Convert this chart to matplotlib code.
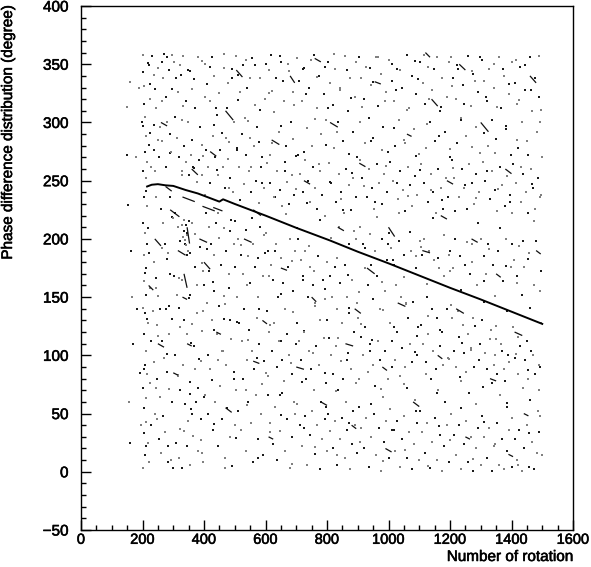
import matplotlib
matplotlib.use("Agg")
import matplotlib.pyplot as plt
import matplotlib.patheffects as pe
from matplotlib.ticker import MultipleLocator

# Main phase-difference track (rotation, degree)
trend_x = [215, 230, 250, 275, 300, 340, 380, 420, 450, 462, 500, 600, 700, 810, 900, 1000, 1100, 1200, 1300, 1400, 1500]
trend_y = [245, 246.5, 247, 246, 245.5, 242, 239, 235, 232, 234, 230, 220, 209.5, 198.6, 189, 179, 168.5, 158, 148, 137.5, 127]

# Scattered background points (rotation, degree)
noise_pts = [
 (148,272),(150,313),(152,229),(155,60),(158,25),(160,335),(163,190),(165,150),(170,110),(178,270),(182,140),(188,330),(192,85),(196,40),(198,300),
 (201,358),(203,343),(206,331),(204,316),(209,305),(202,297),(212,288),(207,275),(215,266),(203,258),(210,252),(205,236),(214,228),(202,214),(208,205),(216,196),(204,186),(211,175),(206,164),(213,152),(203,141),(209,136),(217,128),(205,118),(212,104),(207,92),(215,84),(203,72),(210,63),(206,55),(213,43),(204,33),(218,25),(208,14),(201,3),(222,349),(226,320),(224,291),(228,262),(221,188),(225,158),(229,112),(223,76),(227,40),(220,8),
 (232,357),(236,341),(240,329),(245,312),(238,298),(250,285),(255,270),(242,258),(262,352),(268,338),(275,322),(281,300),(288,290),(294,275),(259,226),(266,214),(272,196),(284,188),(291,170),(236,180),(244,166),(252,151),(258,140),(247,126),(263,112),(270,98),(279,86),(287,71),(296,60),(238,94),(248,80),(256,64),(266,48),(274,34),(283,22),(292,10),(299,3),(241,50),(253,28),(261,16),(276,140),(285,118),(295,131),(234,138),(290,236),(298,218),(278,262),(265,284),(286,345),(297,358),(271,359),(243,236),(237,276),
 (302,352),(309,338),(316,326),(324,341),(331,357),(340,318),(348,300),(355,344),(362,329),(371,312),(379,356),(386,296),(394,281),(305,305),(312,287),(320,270),(327,258),(336,280),(343,266),(351,255),(359,272),(367,261),(376,249),(384,268),(392,255),(307,222),(314,210),(321,198),(330,212),(338,196),(346,203),(354,188),(362,214),(370,176),(378,160),(387,193),(396,172),(303,168),(311,152),(319,141),(328,165),(336,130),(344,118),(352,149),(361,127),(369,108),(377,136),(385,97),(393,121),(306,100),(314,82),(322,70),(331,92),(339,58),(348,44),(356,77),(364,31),(373,60),(381,18),(389,45),(398,8),(309,25),(318,12),(327,3),(335,35),(344,22),(353,6),(362,50),(371,88),(380,72),(391,27),(399,64),
 (333,202),(335,207),(338,199),(340,212),(342,195),(345,205),(347,190),(350,215),(336,216),(344,186),
 (403,350),(411,333),(418,318),(426,356),(434,340),(442,306),(450,325),(458,291),(466,347),(474,312),(482,283),(491,338),(498,300),(405,276),(413,262),(421,248),(429,288),(437,270),(445,255),(453,276),(461,262),(469,244),(477,269),(486,252),(494,240),(408,222),(416,210),(424,196),(432,186),(440,214),(448,201),(456,178),(464,209),(472,190),(480,170),(488,216),(496,196),(401,160),(409,145),(417,172),(425,130),(433,155),(441,118),(449,142),(457,104),(465,131),(473,92),(481,158),(489,114),(497,80),(404,66),(412,50),(420,88),(428,36),(436,60),(444,22),(452,74),(460,45),(468,12),(476,55),(484,30),(492,5),(500,40),(414,100),(445,96),(486,130),
 (503,357),(510,341),(518,326),(526,349),(533,304),(541,330),(549,287),(557,355),(565,315),(573,296),(581,338),(589,270),(597,320),(506,278),(514,262),(522,290),(530,247),(538,272),(546,258),(554,240),(562,280),(570,250),(578,231),(586,262),(594,244),(502,215),(511,200),(519,186),(527,170),(535,208),(543,185),(551,162),(559,196),(567,176),(575,150),(583,210),(591,168),(599,188),(507,150),(515,128),(523,112),(531,140),(539,96),(547,122),(555,104),(563,88),(571,132),(579,110),(587,75),(595,95),(504,70),(512,52),(520,36),(528,80),(536,18),(544,60),(552,42),(560,8),(568,66),(576,28),(584,50),(592,14),(600,85),
 (603,350),(611,325),(619,358),(627,309),(635,338),(643,292),(651,352),(659,318),(667,280),(675,344),(683,300),(691,326),(699,271),(606,265),(614,248),(622,282),(630,236),(638,258),(646,242),(654,228),(662,266),(670,249),(678,230),(686,255),(694,238),(601,205),(609,190),(617,178),(625,165),(633,196),(641,150),(649,184),(657,162),(665,140),(673,176),(681,200),(689,155),(697,190),(605,138),(613,120),(621,104),(629,128),(637,90),(645,112),(653,96),(661,78),(669,118),(677,100),(685,84),(693,60),(607,66),(615,42),(623,24),(631,56),(639,10),(647,35),(655,68),(663,18),(671,45),(679,3),(687,30),(695,50),(700,110),
 (702,355),(710,336),(718,318),(726,347),(734,295),(742,330),(750,280),(758,358),(766,312),(774,340),(782,290),(790,324),(798,302),(705,272),(713,256),(721,240),(729,268),(737,250),(745,232),(753,262),(761,244),(769,226),(777,258),(785,238),(793,220),(706,200),(714,182),(722,168),(730,190),(738,150),(746,176),(754,160),(762,142),(770,185),(778,130),(786,165),(794,148),(701,128),(709,112),(717,96),(725,120),(733,80),(741,104),(749,88),(757,70),(765,108),(773,92),(781,60),(789,115),(797,76),(704,58),(712,40),(720,22),(728,48),(736,6),(744,32),(752,52),(760,15),(768,40),(776,2),(784,28),(792,45),(800,18),
 (803,352),(811,334),(819,315),(827,346),(835,300),(843,328),(851,284),(859,357),(867,310),(875,338),(883,292),(891,322),(899,270),(806,265),(814,248),(822,278),(830,232),(838,256),(846,240),(854,222),(862,260),(870,246),(878,225),(886,252),(894,236),(801,180),(809,168),(817,150),(825,176),(833,140),(841,162),(849,128),(857,178),(865,150),(873,136),(881,165),(889,120),(897,145),(805,115),(813,100),(821,84),(829,108),(837,70),(845,95),(853,80),(861,60),(869,102),(877,88),(885,52),(893,76),(802,50),(810,35),(818,20),(826,44),(834,6),(842,28),(850,46),(858,12),(866,36),(874,2),(882,24),(890,40),(898,16),(840,210),(870,196),(895,200),
 (903,356),(911,338),(919,320),(927,348),(935,304),(943,332),(951,287),(959,356),(967,314),(975,342),(983,296),(991,326),(999,275),(906,268),(914,252),(922,282),(930,236),(938,260),(946,244),(954,226),(962,264),(970,248),(978,230),(986,256),(994,240),(908,210),(916,196),(924,175),(932,160),(940,204),(948,148),(956,190),(964,168),(972,140),(980,200),(988,155),(996,182),(901,132),(909,116),(917,100),(925,124),(933,86),(941,110),(949,92),(957,74),(965,112),(973,96),(981,64),(989,104),(997,80),(904,56),(912,38),(920,20),(928,46),(936,4),(944,30),(952,50),(960,14),(968,38),(976,1),(984,26),(992,44),(1000,12),
 (1003,354),(1011,336),(1019,318),(1027,346),(1035,302),(1043,330),(1051,285),(1059,358),(1067,312),(1075,340),(1083,294),(1091,324),(1099,273),(1006,266),(1014,250),(1022,280),(1030,234),(1038,258),(1046,242),(1054,224),(1062,262),(1070,246),(1078,228),(1086,254),(1094,238),(1001,205),(1009,192),(1017,178),(1025,160),(1033,198),(1041,150),(1049,186),(1057,144),(1065,132),(1073,190),(1081,146),(1089,185),(1097,124),(1005,128),(1013,112),(1021,96),(1029,120),(1037,82),(1045,106),(1053,90),(1061,72),(1069,110),(1077,94),(1085,62),(1093,100),(1004,54),(1012,36),(1020,18),(1028,44),(1036,4),(1044,28),(1052,48),(1060,12),(1068,34),(1076,2),(1084,24),(1092,42),(1100,10),
 (1103,352),(1111,334),(1119,316),(1127,348),(1135,300),(1143,328),(1151,284),(1159,356),(1167,310),(1175,338),(1183,292),(1191,322),(1199,270),(1106,264),(1114,248),(1122,278),(1130,232),(1138,256),(1146,240),(1154,222),(1162,260),(1170,244),(1178,226),(1186,252),(1194,236),(1101,198),(1109,186),(1117,200),(1125,150),(1133,190),(1141,140),(1149,182),(1157,132),(1165,175),(1173,120),(1181,168),(1189,140),(1197,186),(1105,126),(1113,110),(1121,94),(1129,118),(1137,80),(1145,104),(1153,88),(1161,70),(1169,108),(1177,92),(1185,60),(1193,98),(1102,52),(1110,34),(1118,16),(1126,42),(1134,3),(1142,26),(1150,46),(1158,10),(1166,32),(1174,1),(1182,22),(1190,40),(1198,8),
 (1203,356),(1211,338),(1219,320),(1227,346),(1235,304),(1243,332),(1251,288),(1259,357),(1267,314),(1275,342),(1283,296),(1291,326),(1299,274),(1206,268),(1214,252),(1222,282),(1230,236),(1238,260),(1246,244),(1254,226),(1262,264),(1270,248),(1278,230),(1286,256),(1294,240),(1201,190),(1209,175),(1217,200),(1225,138),(1233,185),(1241,126),(1249,178),(1257,118),(1265,170),(1273,196),(1281,125),(1289,160),(1297,110),(1205,132),(1213,104),(1221,90),(1229,116),(1237,78),(1245,102),(1253,86),(1261,68),(1269,106),(1277,90),(1285,58),(1293,96),(1204,50),(1212,32),(1220,14),(1228,40),(1236,2),(1244,24),(1252,44),(1260,8),(1268,30),(1276,1),(1284,20),(1292,38),(1300,6),
 (1303,354),(1311,336),(1319,318),(1327,346),(1335,302),(1343,330),(1351,286),(1359,356),(1367,312),(1375,340),(1383,294),(1391,324),(1399,272),(1306,266),(1314,250),(1322,280),(1330,234),(1338,258),(1346,242),(1354,224),(1362,262),(1370,246),(1378,228),(1386,254),(1394,238),(1301,200),(1309,185),(1317,170),(1325,196),(1333,122),(1341,178),(1349,114),(1357,190),(1365,110),(1373,164),(1381,200),(1389,100),(1397,176),(1305,130),(1313,102),(1321,88),(1329,114),(1337,76),(1345,100),(1353,84),(1361,66),(1369,104),(1377,88),(1385,56),(1393,94),(1304,48),(1312,30),(1320,12),(1328,38),(1336,1),(1344,22),(1352,42),(1360,6),(1368,28),(1376,2),(1384,18),(1392,36),(1400,4),
 (1403,352),(1411,334),(1419,316),(1427,348),(1435,300),(1443,328),(1451,284),(1459,356),(1467,310),(1475,338),(1483,292),(1491,322),(1498,270),(1406,264),(1414,248),(1422,278),(1430,232),(1438,256),(1446,240),(1454,222),(1462,260),(1470,244),(1478,226),(1486,252),(1494,236),(1401,196),(1409,182),(1417,168),(1425,194),(1433,152),(1441,176),(1449,112),(1457,188),(1465,104),(1473,160),(1481,198),(1489,92),(1497,172),(1405,124),(1413,98),(1421,84),(1429,108),(1437,72),(1445,96),(1453,80),(1461,62),(1469,100),(1477,84),(1485,52),(1493,90),(1402,46),(1410,28),(1418,10),(1426,36),(1434,1),(1442,20),(1450,40),(1458,4),(1466,26),(1474,2),(1482,16),(1490,34),(1499,14),
]

# Further background points, read band by band in degree
noise_pts_b = [
 (218,351),(251,347),(279,356),(322,349),(347,345),(393,353),(419,348),(466,359),(491,346),(538,354),(566,349),(612,345),(647,357),(673,350),(721,346),(749,354),(795,348),(822,359),(866,345),(893,352),(939,347),(966,356),(1013,350),(1039,345),(1086,353),(1114,358),(1149,346),(1196,352),(1223,349),(1271,344),(1297,356),(1343,350),(1372,346),(1416,354),(1444,349),(1489,357),
 (226,333),(263,318),(297,329),(331,314),(368,337),(402,322),(439,312),(477,334),(512,319),(549,338),(583,311),(621,327),(658,336),(694,315),(731,324),(767,339),(804,312),(841,330),(877,321),(914,313),(951,335),(987,318),(1024,328),(1061,311),(1097,337),(1133,320),(1172,313),(1206,331),(1244,316),(1281,336),(1316,322),(1353,313),(1391,333),(1426,319),(1463,328),(1496,311),
 (221,281),(256,296),(289,274),(327,302),(361,285),(397,271),(433,298),(470,287),(506,276),(542,301),(579,283),(615,272),(652,297),(688,286),(724,275),(761,303),(797,281),(834,292),(871,273),(907,300),(944,284),(980,276),(1017,295),(1053,282),(1090,271),(1126,299),(1163,288),(1199,277),(1236,302),(1272,279),(1309,291),(1346,274),(1382,297),(1419,285),(1455,272),(1492,300),
 (212,241),(330,255),(365,262),(404,238),(441,259),(481,244),(517,233),(553,262),(590,248),(627,236),(663,258),(700,243),(736,231),(773,264),(809,249),(846,234),(882,257),(919,245),(956,232),(992,263),(1028,248),(1065,237),(1102,259),(1138,242),(1175,233),(1211,261),(1248,246),(1284,235),(1321,258),(1357,243),(1394,232),(1431,262),(1467,247),(1497,238),
 (219,209),(262,192),(296,219),(372,204),(409,191),(447,222),(484,207),(521,195),(557,218),(594,203),(631,190),(667,221),(704,209),(741,194),(777,216),(814,201),(851,225),(887,207),(924,192),(961,219),(997,196),(1034,222),(1071,206),(1107,193),(1144,218),(1180,203),(1217,224),(1254,197),(1290,214),(1327,191),(1364,209),(1400,222),(1437,198),(1474,215),
 (209,171),(244,158),(281,183),(318,166),(356,152),(392,179),(429,163),(466,151),(502,176),(539,160),(576,184),(612,168),(649,153),(686,181),(722,165),(759,172),(795,157),(832,184),(869,169),(905,154),(942,178),(979,163),(1015,182),(1052,167),(1089,175),(1125,161),(1162,184),(1199,172),(1235,156),(1272,180),(1309,164),(1345,151),(1382,177),(1419,162),(1455,183),(1492,155),
 (214,131),(249,117),(286,142),(323,124),(359,111),(396,138),(433,122),(469,144),(506,129),(543,113),(579,140),(616,126),(652,112),(689,137),(726,121),(762,145),(799,130),(836,115),(872,141),(909,127),(946,113),(982,139),(1019,124),(1056,145),(1092,117),(1129,134),(1166,122),(1202,143),(1239,111),(1276,132),(1312,146),(1349,125),(1386,138),(1422,116),(1459,141),(1496,128),
 (206,88),(243,72),(279,101),(316,83),(353,67),(389,95),(426,79),(463,104),(499,86),(536,70),(573,98),(609,82),(646,66),(683,93),(719,77),(756,102),(793,85),(829,69),(866,96),(903,80),(939,104),(976,71),(1013,90),(1049,75),(1086,103),(1123,84),(1159,68),(1196,97),(1233,81),(1269,105),(1306,73),(1343,92),(1379,78),(1416,101),(1453,87),(1489,70),
 (211,22),(247,45),(284,8),(321,37),(357,54),(394,16),(431,41),(467,3),(504,29),(541,57),(577,12),(614,34),(651,49),(687,7),(724,38),(761,21),(797,56),(834,14),(871,42),(907,26),(944,58),(981,9),(1017,36),(1054,19),(1091,52),(1127,5),(1164,39),(1201,27),(1237,55),(1274,11),(1311,43),(1347,24),(1384,59),(1421,6),(1457,33),(1494,48),
]

# Short track fragments: (start rotation, start degree, length in rotations, degree change)
dashes = [
 (260,300,20,-3),(315,190,25,-4),(290,225,30,-6),(330,150,15,-2),(360,260,20,-5),(385,200,25,-3),(420,275,20,-4),(440,120,15,-2),
 (470,310,25,-8),(505,345,20,-6),(530,200,25,-3),(560,95,20,-2),(590,130,15,-3),(620,285,25,-4),(650,175,20,-2),(680,340,15,-6),
 (700,90,25,-2),(725,250,20,-3),(750,150,15,-4),(780,60,20,-3),(810,300,25,-4),(835,210,20,-3),(860,110,25,-2),(880,40,15,-3),
 (905,265,20,-3),(930,175,25,-5),(955,335,20,-2),(980,90,15,-3),(1000,210,20,-8),(1030,145,25,-3),(1060,290,15,-2),(1080,60,20,-4),
 (1110,190,25,-2),(1140,320,20,-6),(1160,100,15,-3),(1190,250,20,-3),(1220,140,25,-4),(1250,30,15,-2),(1270,200,20,-3),(1300,300,25,-8),
 (1330,80,20,-2),(1350,170,15,-3),(1380,260,20,-4),(1410,120,25,-3),(1440,50,15,-2),(1460,340,20,-6),(1480,190,15,-3),(1230,350,20,-5),
 (1120,360,15,-4),(760,355,20,-3),(400,180,20,-6),(345,110,15,-2),(470,55,20,-4),(610,30,15,-2),(990,20,20,-3),(1390,15,15,-2),
 (1170,220,20,-3),(890,140,20,-4),(560,225,25,-5),(240,200,20,-6),(220,160,15,-4),(250,110,20,-3),(300,85,15,-2),(275,245,20,-4),
 (330,236,40,-4),(395,228,40,-4),(430,227,30,-3),(335,170,10,-12),(345,210,8,-14),
]

x_ticks = [0, 200, 400, 600, 800, 1000, 1200, 1400, 1600]
y_ticks = [-50, 0, 50, 100, 150, 200, 250, 300, 350, 400]

plt.rcParams['font.family'] = ['Liberation Sans', 'DejaVu Sans']
fig = plt.figure(figsize=(5.91, 5.67), dpi=100)
W, H = 591, 567
ax = fig.add_axes([81 / W, (H - 530) / H, (573 - 81) / W, (530 - 6) / H])

all_pts = noise_pts + noise_pts_b
nx = [p[0] for p in all_pts]
ny = [p[1] for p in all_pts]
ax.plot(nx[0::2], ny[0::2], linestyle='none', marker='s', markersize=1.7,
        markeredgewidth=0, color='#1a1a1a')
ax.plot(nx[1::2], ny[1::2], linestyle='none', marker='s', markersize=1.6,
        markeredgewidth=0, color='#808080')

for (x0, y0, lx, dy) in dashes:
    ax.plot([x0, x0 + lx], [y0, y0 + dy], color='#111111', linewidth=0.9,
            solid_capstyle='butt')

ax.plot(trend_x, trend_y, color='black', linewidth=1.4)

ax.set_xlim(0, 1600)
ax.set_ylim(-50, 400)
ax.set_xticks(x_ticks)
ax.set_yticks(y_ticks)
ax.xaxis.set_minor_locator(MultipleLocator(50))
ax.yaxis.set_minor_locator(MultipleLocator(10))
ax.tick_params(which='both', direction='in', top=False, right=False, width=1.0)
ax.tick_params(axis='x', which='major', length=7.5, pad=2, labelsize=10.5)
ax.tick_params(axis='y', which='major', length=7.5, pad=9, labelsize=11)
ax.tick_params(which='minor', length=3.8)
for s in ax.spines.values():
    s.set_linewidth(1.0)

heavy = [pe.withStroke(linewidth=0.4, foreground='black')]
for lab in ax.get_xticklabels() + ax.get_yticklabels():
    lab.set_path_effects(heavy)

fig.text(573 / W, 1 - 557 / H, 'Number of rotation', fontsize=11,
         ha='right', va='center', path_effects=heavy)
fig.text(8 / W, 1 - 5 / H, 'Phase difference distribution (degree)', fontsize=11,
         rotation=90, ha='center', va='top', path_effects=heavy)

fig.savefig('out.png', dpi=100)
